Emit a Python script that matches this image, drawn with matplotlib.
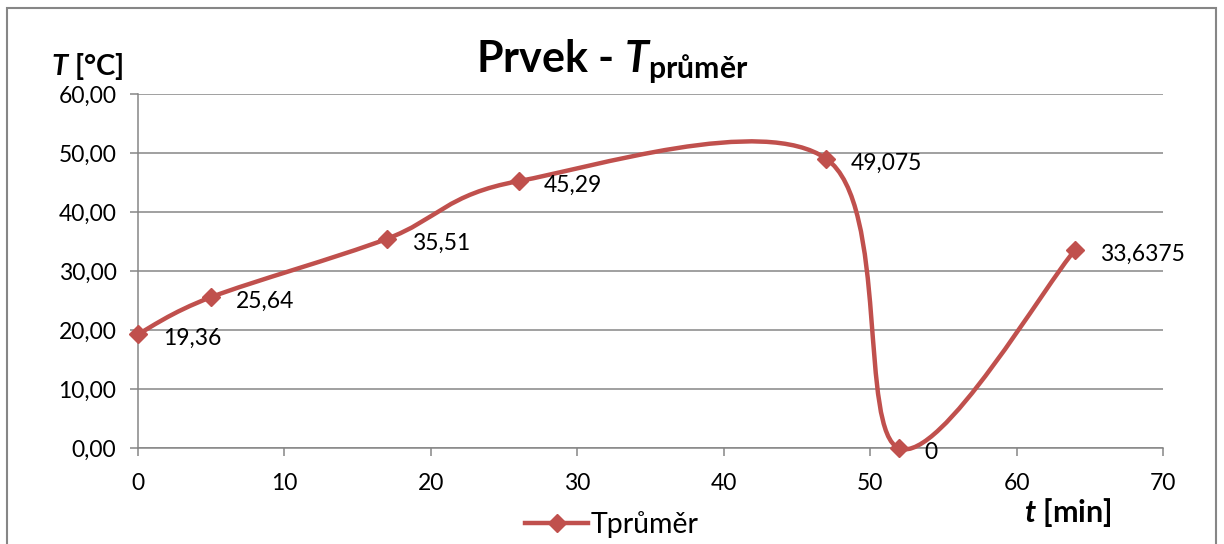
import matplotlib
matplotlib.use("Agg")
import matplotlib.pyplot as plt
from matplotlib.path import Path
from matplotlib.patches import PathPatch, Rectangle
from matplotlib.lines import Line2D
from matplotlib.ticker import FuncFormatter, MultipleLocator

# data
time_min = [0, 5, 17, 26, 47, 52, 64]
temp_avg = [19.36, 25.64, 35.51, 45.29, 49.075, 0, 33.6375]
point_labels = ["19,36", "25,64", "35,51", "45,29", "49,075", "0", "33,6375"]
series_name = "Tprůměr"

RED = "#C0504D"
GRAY = "#868686"
FONT = "Lato"

plt.rcParams["font.family"] = [FONT, "DejaVu Sans"]
plt.rcParams["mathtext.fontset"] = "custom"
plt.rcParams["mathtext.rm"] = FONT
plt.rcParams["mathtext.bf"] = FONT + ":bold"
plt.rcParams["mathtext.it"] = FONT + ":italic"
plt.rcParams["mathtext.bfit"] = FONT + ":italic:bold"


def smooth_path(xs, ys):
    """Excel-like smoothed line: cubic Bezier segments, Catmull-Rom control points."""
    pts = list(zip(xs, ys))
    n = len(pts)
    verts = [pts[0]]
    codes = [Path.MOVETO]
    for i in range(n - 1):
        p0 = pts[i - 1] if i > 0 else pts[i]
        p1 = pts[i]
        p2 = pts[i + 1]
        p3 = pts[i + 2] if i + 2 < n else pts[i + 1]
        c1 = (p1[0] + (p2[0] - p0[0]) / 6, p1[1] + (p2[1] - p0[1]) / 6)
        c2 = (p2[0] - (p3[0] - p1[0]) / 6, p2[1] - (p3[1] - p1[1]) / 6)
        verts += [c1, c2, p2]
        codes += [Path.CURVE4] * 3
    return Path(verts, codes)


fig = plt.figure(figsize=(12.24, 5.44), dpi=100)
ax = fig.add_axes([0.1127, 0.1756, 0.8375, 0.6511])

# outer chart frame
fig.patches.append(Rectangle((7 / 1224, -0.05), 1209 / 1224, 1.05 - 8 / 544,
                             transform=fig.transFigure, fill=False,
                             edgecolor=GRAY, linewidth=1.5))

ax.add_patch(PathPatch(smooth_path(time_min, temp_avg), facecolor="none",
                       edgecolor=RED, linewidth=3.2, capstyle="round",
                       joinstyle="round", zorder=3, clip_on=False))
ax.plot(time_min, temp_avg, linestyle="none", marker="D", markersize=9,
        color=RED, zorder=4, clip_on=False)

for x, y, lab in zip(time_min, temp_avg, point_labels):
    ax.annotate(lab, (x, y), xytext=(18, -3), textcoords="offset points",
                ha="left", va="center", fontsize=16.5, zorder=5)

ax.set_xlim(0, 70)
ax.set_ylim(0, 60)
ax.xaxis.set_major_locator(MultipleLocator(10))
ax.yaxis.set_major_locator(MultipleLocator(10))
ax.yaxis.set_major_formatter(FuncFormatter(lambda v, p: f"{v:.2f}".replace(".", ",")))
ax.grid(True, axis="y", color=GRAY, linewidth=1.1)
ax.set_axisbelow(True)
for side in ["top", "right"]:
    ax.spines[side].set_visible(False)
for side in ["left", "bottom"]:
    ax.spines[side].set_color(GRAY)
    ax.spines[side].set_linewidth(1.1)
ax.tick_params(axis="both", direction="out", length=5.5, width=1.1,
               color=GRAY, labelsize=16.5)
ax.tick_params(axis="y", pad=10)
ax.tick_params(axis="x", pad=12)

fig.text(0.5, 0.866, r"Prvek - $\mathbfit{T}_{\mathbf{průměr}}$",
         ha="center", va="baseline", fontsize=31, fontweight="bold")
fig.text(0.042, 0.862, r"$\mathbfit{T}$ [°C]", ha="left", va="baseline",
         fontsize=21, fontweight="bold")
fig.text(0.837, 0.040, r"$\mathbfit{t}$ [min]", ha="left", va="baseline",
         fontsize=22, fontweight="bold")

handle = Line2D([], [], color=RED, linewidth=3.2, marker="D", markersize=9)
fig.legend([handle], [series_name], loc="center", bbox_to_anchor=(0.5, 0.035),
           frameon=False, fontsize=20.5, handlelength=2.2, handletextpad=0.1,
           borderaxespad=0)

fig.savefig("out.png", dpi=100)
